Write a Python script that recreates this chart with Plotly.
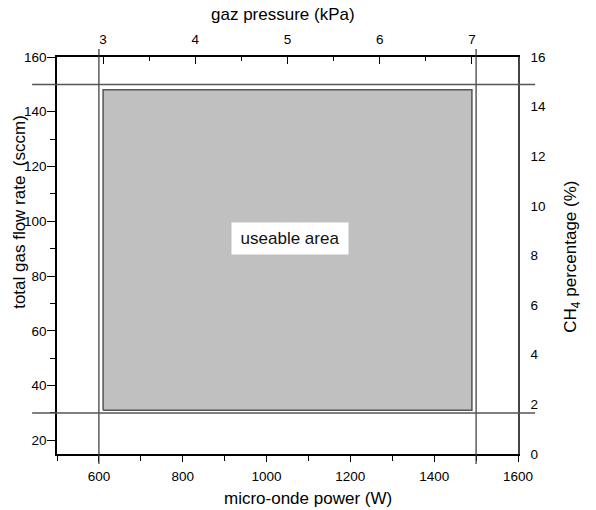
import plotly.graph_objects as go

# ---- data ----
power_range = [500, 1600]          # micro-onde power (W), bottom axis
flow_range = [15, 160]             # total gas flow rate (sccm), left axis
pressure_range = [2.5, 7.5]        # gaz pressure (kPa), top axis
ch4_range = [0, 16]                # CH4 percentage (%), right axis

power_limits = [600, 1500]         # vertical limit lines (W)
flow_limits = [30, 150]            # horizontal limit lines (sccm)
area_pressure = [3, 7]             # useable area, kPa
area_flow = [31, 148]              # useable area, sccm
label_pos = (5.03, 93.6)           # (kPa, sccm)
label_text = "useable area"

FONT = "Liberation Sans, Arial, sans-serif"

fig = go.Figure()

rx = [area_pressure[0], area_pressure[1], area_pressure[1], area_pressure[0], area_pressure[0]]
ry = [area_flow[0], area_flow[0], area_flow[1], area_flow[1], area_flow[0]]
fig.add_trace(go.Scatter(x=rx, y=ry, xaxis="x2", yaxis="y", mode="lines",
                         fill="toself", fillcolor="#c0c0c0",
                         line=dict(color="#555555", width=1.5),
                         hoverinfo="skip", showlegend=False))
fig.add_trace(go.Scatter(x=power_range, y=ch4_range, xaxis="x", yaxis="y2", mode="markers",
                         marker=dict(opacity=0), hoverinfo="skip", showlegend=False))

shapes = []
for p in power_limits:
    shapes.append(dict(type="line", xref="x", yref="paper", x0=p, x1=p, y0=-0.025, y1=1.02,
                       line=dict(color="#333333", width=1.2), layer="above"))
for f in flow_limits:
    shapes.append(dict(type="line", xref="paper", yref="y", x0=-0.054, x1=1.037, y0=f, y1=f,
                       line=dict(color="#555555", width=1.5), layer="above"))

tickfont = dict(family=FONT, size=13.5, color="black")
titlefont = dict(family=FONT, size=17, color="black")

annotations = [
    dict(x=label_pos[0], y=label_pos[1], xref="x2", yref="y", text=label_text, showarrow=False,
         bgcolor="white", width=112, height=27, borderpad=2,
         font=dict(family=FONT, size=17, color="#111111")),
    dict(x=0.491, y=1.0, xref="paper", yref="paper", yshift=43, text="gaz pressure (kPa)",
         showarrow=False, font=titlefont, yanchor="middle"),
    dict(x=0.545, y=0.0, xref="paper", yref="paper", yshift=-44, text="micro-onde power (W)",
         showarrow=False, font=titlefont, yanchor="middle"),
    dict(x=0.0, y=0.61, xref="paper", yref="paper", xshift=-37, text="total gas flow rate  (sccm)",
         showarrow=False, font=titlefont, textangle=-90, xanchor="center"),
    dict(x=1.0, y=0.497, xref="paper", yref="paper", xshift=54, text="CH<sub>4</sub> percentage (%)",
         showarrow=False, font=titlefont, textangle=-90, xanchor="center"),
]

fig.update_layout(
    width=596, height=510,
    margin=dict(l=57, r=78, t=57, b=56),
    paper_bgcolor="white", plot_bgcolor="white",
    showlegend=False,
    shapes=shapes, annotations=annotations,
    xaxis=dict(range=power_range, dtick=200, tick0=0, ticks="outside", ticklen=6, tickwidth=1.2,
               tickcolor="black", showline=True, linecolor="black", linewidth=1.5,
               showgrid=False, zeroline=False, tickfont=tickfont, ticklabelstandoff=3,
               minor=dict(dtick=100, ticks="outside", ticklen=5, tickcolor="black", tickwidth=1.2),
               fixedrange=True),
    xaxis2=dict(range=pressure_range, overlaying="x", side="top", anchor="y", dtick=1, tick0=0,
                ticks="inside", ticklen=7, tickwidth=1.2, tickcolor="black", showline=True,
                linecolor="black", linewidth=1.5, showgrid=False, zeroline=False,
                tickfont=tickfont, ticklabelstandoff=6,
                minor=dict(dtick=0.5, ticks="inside", ticklen=4, tickcolor="black", tickwidth=1.2),
                fixedrange=True),
    yaxis=dict(range=flow_range, dtick=20, tick0=0, ticks="outside", ticklen=8, tickwidth=1.2,
               tickcolor="black", showline=True, linecolor="black", linewidth=1.5,
               showgrid=False, zeroline=False, tickfont=tickfont, ticklabelstandoff=-2,
               minor=dict(dtick=10, ticks="outside", ticklen=5, tickcolor="black", tickwidth=1.2),
               fixedrange=True),
    yaxis2=dict(range=ch4_range, overlaying="y", side="right", anchor="x", dtick=2, tick0=0,
                ticks="inside", ticklen=6, tickwidth=1.2, tickcolor="#333333", showline=True,
                linecolor="#444444", linewidth=1.5, showgrid=False, zeroline=False,
                tickfont=tickfont, ticklabelstandoff=8,
                minor=dict(dtick=1, ticks="inside", ticklen=3, tickcolor="#333333", tickwidth=1.2),
                fixedrange=True),
)

fig.write_html("out.html")
